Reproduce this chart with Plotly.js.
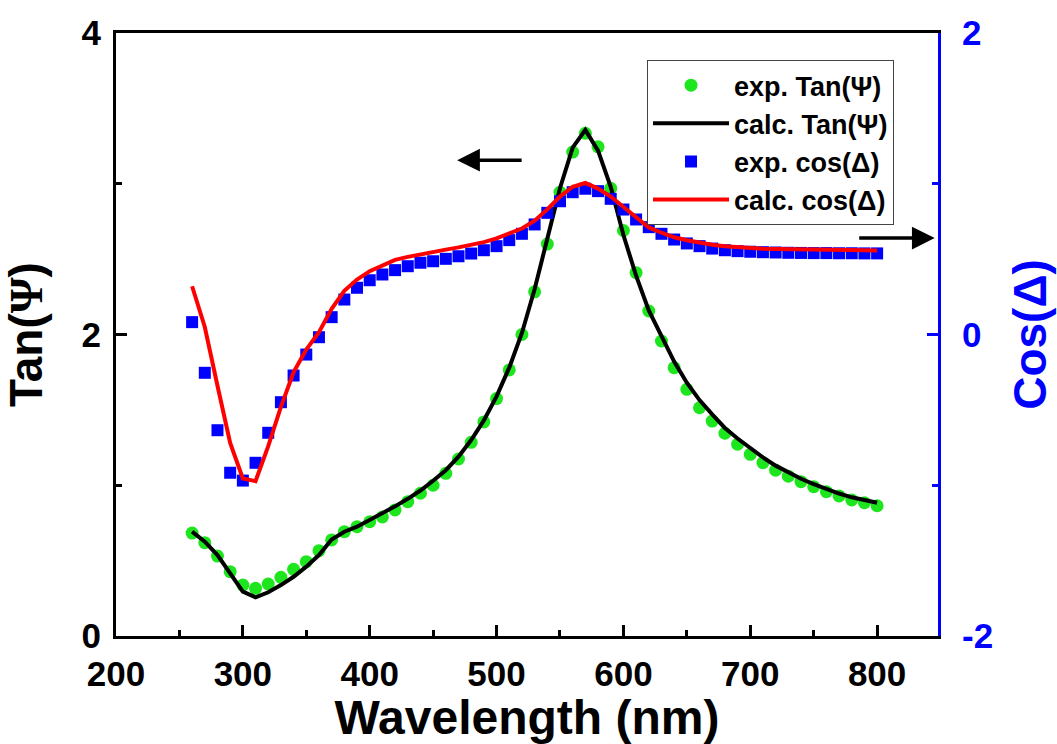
<!DOCTYPE html>
<html>
<head>
<meta charset="utf-8">
<script src="https://cdn.plot.ly/plotly-3.0.1.min.js"></script>
<style>html,body{margin:0;padding:0;background:#fff;}#chart{width:1057px;height:744px;}</style>
</head>
<body>
<div id="chart"></div>
<script>
// Wavelength grid (nm)
const wavelength = [260,270,280,290,300,310,320,330,340,350,360,370,380,390,400,410,420,430,440,450,460,470,480,490,500,510,520,530,540,550,560,570,580,590,600,610,620,630,640,650,660,670,680,690,700,710,720,730,740,750,760,770,780,790,800];

// exp. Tan(Psi)
const expTanPsi = [0.683,0.619,0.530,0.427,0.338,0.316,0.345,0.389,0.442,0.493,0.566,0.637,0.692,0.725,0.758,0.790,0.836,0.891,0.947,1.000,1.079,1.174,1.285,1.420,1.575,1.765,2.000,2.283,2.600,2.944,3.210,3.335,3.245,2.970,2.690,2.410,2.156,1.957,1.780,1.636,1.514,1.426,1.345,1.272,1.205,1.150,1.100,1.060,1.024,0.990,0.957,0.929,0.902,0.884,0.864];

// calc. Tan(Psi)
const calcTanPsi = [0.692,0.626,0.537,0.416,0.294,0.257,0.290,0.338,0.393,0.460,0.537,0.640,0.692,0.725,0.770,0.810,0.860,0.910,0.965,1.030,1.100,1.190,1.300,1.430,1.590,1.780,2.010,2.300,2.630,2.970,3.240,3.357,3.220,2.980,2.660,2.390,2.160,1.990,1.820,1.680,1.565,1.470,1.380,1.310,1.245,1.185,1.130,1.085,1.043,1.007,0.974,0.945,0.920,0.899,0.884];

// exp. cos(Delta)
const expCosDelta = [0.082,-0.254,-0.635,-0.917,-0.969,-0.851,-0.652,-0.449,-0.272,-0.133,-0.018,0.115,0.232,0.310,0.360,0.398,0.427,0.453,0.476,0.486,0.502,0.519,0.537,0.559,0.586,0.626,0.668,0.730,0.807,0.884,0.944,0.967,0.951,0.900,0.829,0.763,0.712,0.668,0.630,0.604,0.586,0.570,0.559,0.553,0.549,0.546,0.544,0.542,0.541,0.540,0.540,0.539,0.539,0.538,0.538];

// calc. cos(Delta)
const calcCosDelta = [0.320,0.050,-0.340,-0.720,-0.955,-0.973,-0.740,-0.480,-0.250,-0.100,0.015,0.170,0.290,0.365,0.420,0.455,0.495,0.515,0.533,0.548,0.563,0.578,0.595,0.613,0.638,0.668,0.703,0.755,0.830,0.915,0.980,1.005,0.968,0.915,0.845,0.775,0.710,0.675,0.645,0.625,0.608,0.595,0.585,0.578,0.573,0.569,0.567,0.565,0.564,0.562,0.561,0.560,0.559,0.559,0.558];

// Tick labels
const xTickVals = [200,300,400,500,600,700,800];
const xTickText = ['200','300','400','500','600','700','800'];
const yTickVals = [0,2,4];
const yTickText = ['0','2','4'];
const y2TickVals = [-2,0,2];
const y2TickText = ['-2','0','2'];

const seriesNames = ['exp. Tan(Ψ)','calc. Tan(Ψ)','exp. cos(Δ)','calc. cos(Δ)'];

const FONT = 'Liberation Sans, Arial, Helvetica, sans-serif';

const traces = [
  {x: wavelength, y: expTanPsi, name: seriesNames[0], type: 'scatter', mode: 'markers',
   marker: {symbol: 'circle', size: 13, color: '#1ee61e'}, yaxis: 'y', legendgroup: 'a'},
  {x: wavelength, y: calcTanPsi, name: seriesNames[1], type: 'scatter', mode: 'lines',
   line: {color: '#000000', width: 4}, yaxis: 'y', legendgroup: 'b'},
  {x: wavelength, y: expCosDelta, name: seriesNames[2], type: 'scatter', mode: 'markers',
   marker: {symbol: 'square', size: 12, color: '#0000ff'}, yaxis: 'y2', legendgroup: 'c'},
  {x: wavelength, y: calcCosDelta, name: seriesNames[3], type: 'scatter', mode: 'lines',
   line: {color: '#ff0000', width: 4}, yaxis: 'y2', legendgroup: 'd'}
];

const layout = {
  width: 1057, height: 744,
  margin: {l: 116, r: 119, t: 33, b: 108},
  paper_bgcolor: '#ffffff', plot_bgcolor: '#ffffff',
  font: {family: FONT, weight: 700, color: '#000'},
  showlegend: true,
  legend: {
    x: 0.646, y: 0.955, xanchor: 'left', yanchor: 'top',
    bgcolor: '#ffffff', bordercolor: '#444444', borderwidth: 1,
    font: {family: FONT, size: 27, weight: 700, color: '#000'},
    itemwidth: 76, tracegroupgap: 0, traceorder: 'normal'
  },
  xaxis: {
    range: [200, 848], showgrid: false, zeroline: false,
    showline: true, linecolor: '#000', linewidth: 3, mirror: true,
    ticks: 'inside', ticklen: 11, tickwidth: 3, tickcolor: '#000',
    tickvals: xTickVals, ticktext: xTickText, ticklabelstandoff: 5,
    tickfont: {family: FONT, size: 35, weight: 700, color: '#000'},
    minor: {dtick: 50, tick0: 200, ticks: 'inside', ticklen: 6, tickwidth: 3, tickcolor: '#000', showgrid: false},
    title: {text: 'Wavelength (nm)', font: {family: FONT, size: 48, weight: 700, color: '#000'}, standoff: 10}
  },
  yaxis: {
    range: [0, 4], showgrid: false, zeroline: false,
    showline: true, linecolor: '#000', linewidth: 3, mirror: false,
    ticks: 'inside', ticklen: 11, tickwidth: 3, tickcolor: '#000',
    tickvals: yTickVals, ticktext: yTickText, ticklabelstandoff: 5,
    tickfont: {family: FONT, size: 35, weight: 700, color: '#000'},
    minor: {dtick: 1, tick0: 0, ticks: 'inside', ticklen: 6, tickwidth: 3, tickcolor: '#000', showgrid: false},
    title: {text: 'Tan(<span style="font-family:Liberation Serif">Ψ</span>)', font: {family: FONT, size: 46, weight: 700, color: '#000'}, standoff: 28}
  },
  yaxis2: {
    range: [-2, 2], overlaying: 'y', side: 'right', anchor: 'x',
    showgrid: false, zeroline: false,
    showline: true, linecolor: '#0000ff', linewidth: 3,
    ticks: 'inside', ticklen: 11, tickwidth: 3, tickcolor: '#0000ff',
    tickvals: y2TickVals, ticktext: y2TickText, ticklabelstandoff: 14,
    tickfont: {family: FONT, size: 35, weight: 700, color: '#0000ff'},
    minor: {dtick: 1, tick0: 0, ticks: 'inside', ticklen: 6, tickwidth: 3, tickcolor: '#0000ff', showgrid: false},
    title: {text: 'Cos(Δ)', font: {family: FONT, size: 46, weight: 700, color: '#0000ff'}, standoff: 22}
  },
  annotations: [
    {xref: 'paper', yref: 'paper', x: 0.415, y: 0.789, ax: 66, ay: 0, text: '', showarrow: true,
     arrowhead: 2, arrowsize: 1.3, arrowwidth: 3.5, arrowcolor: '#000'},
    {xref: 'paper', yref: 'paper', x: 0.996, y: 0.660, ax: -77, ay: 0, text: '', showarrow: true,
     arrowhead: 2, arrowsize: 1.3, arrowwidth: 3.5, arrowcolor: '#000'}
  ]
};

Plotly.newPlot('chart', traces, layout, {displayModeBar: false, staticPlot: true});
</script>
</body>
</html>
